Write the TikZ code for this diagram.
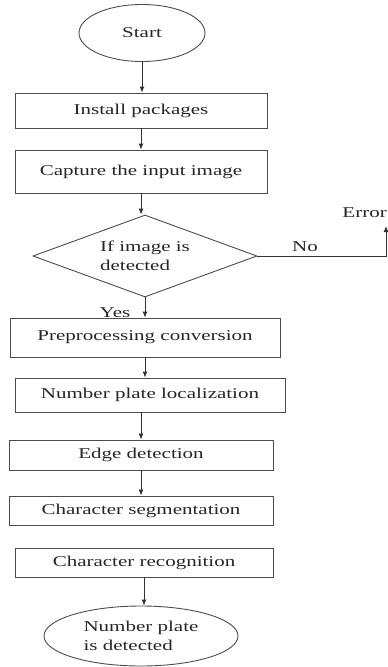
\documentclass[tikz,border=0pt]{standalone}
\usepackage{fontspec}
\setmainfont{Liberation Serif}[FakeStretch=1.4]
\usetikzlibrary{shapes.geometric, arrows.meta, positioning}

\begin{document}
\begin{tikzpicture}[x=1pt, y=-1pt, font=\fontsize{15}{19}\selectfont, text=black!85]
    \tikzstyle{term} = [ellipse, draw=black!70, line width=0.9pt, inner sep=0pt]
    \tikzstyle{process} = [rectangle, draw=black!70, line width=0.9pt,
        inner sep=0pt]
    \tikzstyle{decision} = [diamond, draw=black!70, line width=0.9pt,
        aspect=2.7, inner sep=0pt, align=left]
    \tikzstyle{line} = [draw=black!80, -{Latex[length=6pt, width=5pt]}, line width=0.9pt]

    \clip (0,0) rectangle (388,667);

    \node [term, minimum width=126pt, minimum height=57pt] (start) at (142,33) {Start};
    \node [process, minimum width=252pt, minimum height=35pt] (install) at (141,110.5) {Install packages};
    \node [process, minimum width=252pt, minimum height=43pt] (capture) at (141,171.5) {Capture the input image};
    \node [decision, minimum width=224pt, minimum height=82pt] (detect) at (145,256) {If image is\\ detected};
    \node [anchor=east, inner sep=1pt] (error) at (388,213) {Error};
    \coordinate (errin) at (386,226);
    \node (no) at (305,247) {No};
    \node (yes) at (115,313) {Yes};
    \node [process, minimum width=270pt, minimum height=39pt] (prep) at (145,337.5) {Preprocessing conversion};
    \node [process, minimum width=270pt, minimum height=34pt] (localize) at (150,395) {Number plate localization};
    \node [process, minimum width=264pt, minimum height=30pt] (edge) at (141,455) {Edge detection};
    \node [process, minimum width=264pt, minimum height=29pt] (segment) at (141,510.5) {Character segmentation};
    \node [process, minimum width=258pt, minimum height=29pt] (recog) at (144,562.5) {Character recognition};
    \node [term, minimum width=194pt, minimum height=60pt, align=left] (stop) at (141,636) {Number plate\\ is detected};

    \path [line] (start.south) -- (start.south |- install.north);
    \path [line] (install.south) -- (install.south |- capture.north);
    \path [line] (capture.south) -- (capture.south |- detect.north);
    \path [line] (detect.south) -- (detect.south |- prep.north);
    \path [line] (detect.east) -| (errin);
    \path [line] (prep.south) -- (prep.south |- localize.north);
    \path [line] (edge.north |- localize.south) -- (edge.north);
    \path [line] (edge.south) -- (edge.south |- segment.north);
    \path [line] (recog.south) -- (recog.south |- stop.north);
\end{tikzpicture}
\end{document}
